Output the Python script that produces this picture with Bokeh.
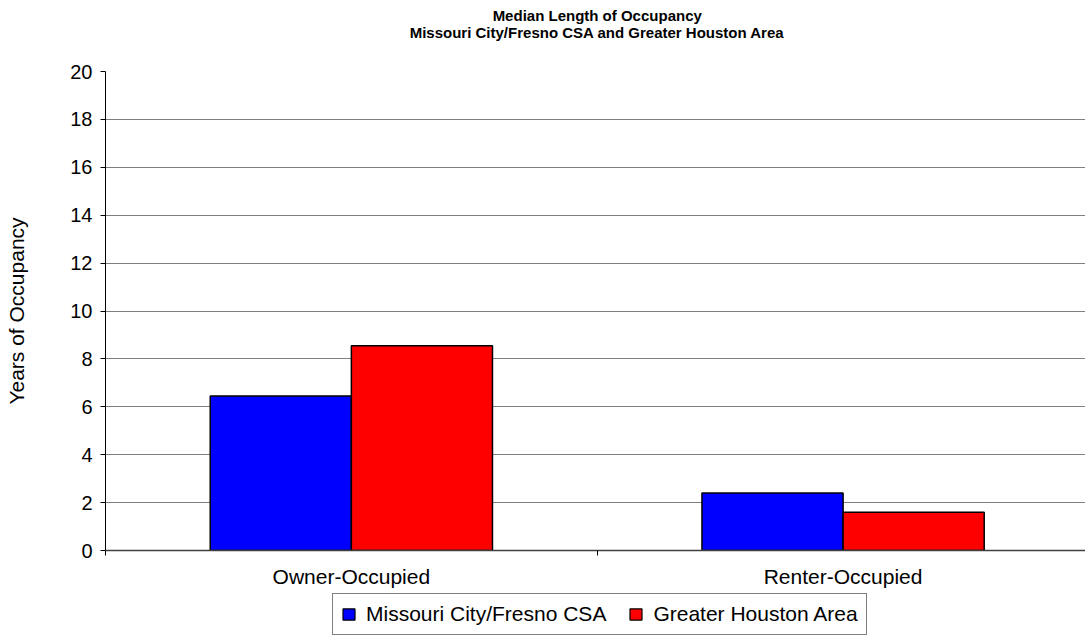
from bokeh.plotting import figure
from bokeh.models import (Range1d, FixedTicker, Legend, LegendItem,
                          ColumnDataSource, Label)
from bokeh.layouts import column
from bokeh.embed import file_html
from bokeh.resources import INLINE

title_lines = ["Median Length of Occupancy",
               "Missouri City/Fresno CSA and Greater Houston Area"]
categories = ["Owner-Occupied", "Renter-Occupied"]
series_names = ["Missouri City/Fresno CSA", "Greater Houston Area"]
series_colors = ["#0000FF", "#FF0000"]
missouri_values = [6.45, 2.4]
houston_values = [8.55, 1.6]
y_ticks = [0, 2, 4, 6, 8, 10, 12, 14, 16, 18, 20]

FONT = "Liberation Sans"
bar_w = 0.287
X_END = 1.993

centers = [i + 0.5 for i in range(len(categories))]
src_m = ColumnDataSource(dict(x=[c - bar_w / 2 for c in centers], top=missouri_values))
src_h = ColumnDataSource(dict(x=[c + bar_w / 2 for c in centers], top=houston_values))
sources = [src_m, src_h]

# ---- title strip ----
p0 = figure(width=1085, height=45, output_backend="svg", toolbar_location=None,
            title=None, x_range=Range1d(0, X_END), y_range=Range1d(0, 1),
            min_border_left=0, min_border_right=0, min_border_top=0,
            min_border_bottom=0)
p0.axis.visible = False
p0.grid.grid_line_color = None
p0.outline_line_color = None
p0.border_fill_color = "white"
for txt, yy in zip(title_lines, [0.667, 0.289]):
    p0.add_layout(Label(x=len(categories) / 2, y=yy, text=txt, text_align="center",
                        text_baseline="middle", text_font=FONT,
                        text_font_size="15px", text_font_style="bold",
                        text_color="black"))

# ---- main chart ----
p = figure(width=1085, height=547, output_backend="svg", toolbar_location=None,
           title=None, x_range=Range1d(0, X_END), y_range=Range1d(0, 20),
           min_border_left=105, min_border_right=0, min_border_top=26,
           min_border_bottom=42)
p.outline_line_color = None
p.background_fill_color = "white"
p.border_fill_color = "white"

renderers = [p.vbar(x="x", top="top", width=bar_w, bottom=0, source=s,
                    fill_color=c, line_color="black", line_width=1.5)
             for s, c in zip(sources, series_colors)]

# y axis
p.yaxis.ticker = FixedTicker(ticks=y_ticks)
p.yaxis.axis_label = "Years of Occupancy"
p.yaxis.axis_label_text_font = FONT
p.yaxis.axis_label_text_font_size = "21px"
p.yaxis.axis_label_text_font_style = "normal"
p.yaxis.axis_label_text_color = "black"
p.yaxis.axis_label_standoff = 39
p.yaxis.major_label_text_font = FONT
p.yaxis.major_label_text_font_size = "20px"
p.yaxis.major_label_text_color = "black"
p.yaxis.major_label_standoff = 8
p.yaxis.major_tick_out = 5
p.yaxis.major_tick_in = 0
p.yaxis.minor_tick_line_color = None
p.yaxis.axis_line_color = "black"
p.yaxis.major_tick_line_color = "black"

# x axis
p.xaxis.ticker = FixedTicker(ticks=centers, minor_ticks=[0, 1, 2])
p.xaxis.major_label_overrides = {c: cat for c, cat in zip(centers, categories)}
p.xaxis.major_label_text_font = FONT
p.xaxis.major_label_text_font_size = "21px"
p.xaxis.major_label_text_color = "black"
p.xaxis.major_label_standoff = 8
p.xaxis.major_tick_line_color = None
p.xaxis.minor_tick_out = 5
p.xaxis.minor_tick_in = 0
p.xaxis.minor_tick_line_color = "black"
p.xaxis.axis_line_color = "#404040"
p.xaxis.axis_line_width = 1.5

# grid
p.xgrid.grid_line_color = None
p.ygrid.ticker = FixedTicker(ticks=y_ticks)
p.ygrid.grid_line_color = "#808080"
p.ygrid.grid_line_width = 1.2

# ---- legend strip (its bars fall outside the strip's view) ----
p2 = figure(width=1085, height=46, output_backend="svg", toolbar_location=None,
            title=None, x_range=Range1d(100, 101), y_range=Range1d(100, 101),
            min_border_left=0, min_border_right=0, min_border_top=0,
            min_border_bottom=0)
p2.axis.visible = False
p2.grid.grid_line_color = None
p2.outline_line_color = None
p2.border_fill_color = "white"

proxies = [p2.vbar(x="x", top="top", width=bar_w, source=s, fill_color=c,
                   line_color="black", line_width=1.2)
           for s, c in zip(sources, series_colors)]

legend = Legend(items=[LegendItem(label=n, renderers=[r])
                       for n, r in zip(series_names, proxies)],
                orientation="horizontal", location=(227, 3),
                label_text_font=FONT, label_text_font_size="21px",
                label_text_color="black", label_height=21,
                glyph_width=15, glyph_height=14, label_standoff=10,
                spacing=22, padding=8, margin=0,
                border_line_color="black", border_line_width=1,
                background_fill_color="white", background_fill_alpha=1.0)
p2.add_layout(legend, "center")

layout = column(p0, p, p2, spacing=0)
open("out.html", "w").write(file_html(layout, INLINE))
